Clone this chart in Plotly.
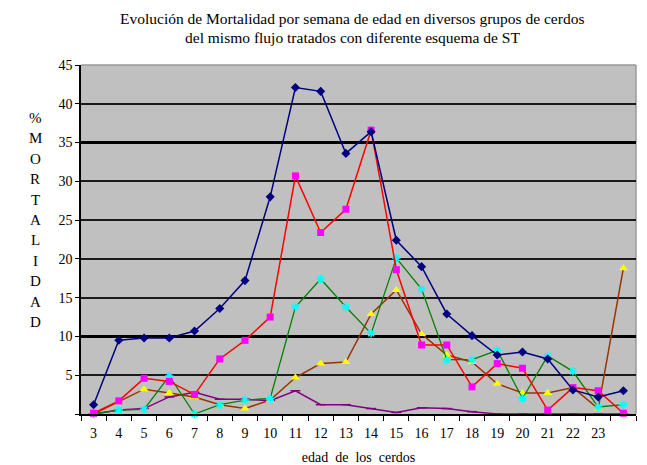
import plotly.graph_objects as go

weeks = [3, 4, 5, 6, 7, 8, 9, 10, 11, 12, 13, 14, 15, 16, 17, 18, 19, 20, 21, 22, 23, 24]
week_labels = ["3", "4", "5", "6", "7", "8", "9", "10", "11", "12", "13", "14", "15", "16",
               "17", "18", "19", "20", "21", "22", "23", ""]

serie_azul = [1.2, 9.5, 9.8, 9.8, 10.7, 13.6, 17.2, 28.0, 42.1, 41.6, 33.6, 36.4, 22.4, 19.0,
              12.9, 10.1, 7.6, 8.0, 7.1, 3.1, 2.2, 3.0]
serie_roja = [0.1, 1.7, 4.6, 4.2, 2.5, 7.1, 9.5, 12.5, 30.7, 23.4, 26.4, 36.6, 18.6, 8.9,
              8.9, 3.5, 6.5, 5.9, 0.5, 3.4, 3.0, 0.1]
serie_verde = [0.0, 0.5, 0.6, 4.9, 0.0, 1.2, 1.8, 2.0, 13.8, 17.4, 13.8, 10.4, 20.1, 16.1,
               7.0, 7.0, 8.2, 2.0, 7.5, 5.5, 0.9, 1.2]
serie_marron = [0.0, 1.6, 3.2, 2.7, 2.2, 1.2, 0.7, 1.8, 4.7, 6.5, 6.7, 12.9, 16.0, 10.3,
                7.6, 6.7, 3.9, 2.7, 2.7, 3.4, 0.7, 18.8]
serie_morada = [0.0, 0.5, 0.7, 2.2, 2.8, 1.9, 1.9, 1.7, 3.0, 1.2, 1.2, 0.7, 0.2, 0.8,
                0.7, 0.3, 0.0, 0.0, 0.0, 0.0, 0.0, 0.0]

y_ticks = [0, 5, 10, 15, 20, 25, 30, 35, 40, 45]
y_labels = ["", "5", "10", "15", "20", "25", "30", "35", "40", "45"]
thin_grid = [5, 15, 20, 25, 30, 40]
thick_grid = [10, 35]
y_title_letters = list("%MORTALIDAD")

SERIF = "Liberation Serif, Times New Roman, serif"

W, H = 639, 457
L, R, T, B = 73, 11, 57, 51
PW, PH = W - L - R, H - T - B

fig = go.Figure()

def add(y, line_color, symbol, mcolor, mline, size, width):
    fig.add_trace(go.Scatter(
        x=weeks, y=y, mode="lines+markers", cliponaxis=False,
        line=dict(color=line_color, width=width),
        marker=dict(symbol=symbol, color=mcolor, size=size,
                    line=dict(color=mline, width=1.5 if "open" in symbol else 0)),
        showlegend=False))

add(serie_morada, "#800080", "line-ew-open", "#800080", "#800080", 7, 1.5)
add(serie_marron, "#993300", "triangle-up", "#FFFF00", "#FFFF00", 8, 1.5)
add(serie_verde, "#008000", "asterisk-open", "#00FFFF", "#00FFFF", 7, 1.3)
add(serie_roja, "#FF0000", "square", "#FF00FF", "#FF00FF", 7, 1.5)
add(serie_azul, "#000080", "diamond", "#000080", "#000080", 7, 1.5)

NB = "\u00a0"
x_title = (NB * 2).join(["edad", "de", "los", "cerdos"])

fig.update_layout(
    width=W, height=H,
    margin=dict(l=L, r=R, t=T, b=B),
    paper_bgcolor="white",
    plot_bgcolor="#C0C0C0",
    font=dict(family=SERIF, size=14, color="black"),
    xaxis=dict(range=[2.5, 24.5], tickvals=weeks, ticktext=week_labels, ticks="",
               automargin=False, ticklabelstandoff=5,
               showgrid=False, zeroline=False, showline=True, linecolor="black", linewidth=1.5,
               minor=dict(tick0=2.5, dtick=1, ticks="outside", ticklen=5, tickcolor="black",
                          showgrid=False),
               tickfont=dict(family=SERIF, size=14),
               title=dict(text=x_title, font=dict(family=SERIF, size=14), standoff=14)),
    yaxis=dict(range=[0, 45], tickvals=y_ticks, ticktext=y_labels, ticks="outside", ticklen=4,
               automargin=False,
               tickcolor="black", showgrid=False, zeroline=False, showline=True,
               linecolor="black", linewidth=1.5, tickfont=dict(family=SERIF, size=14)),
    yaxis2=dict(range=[0, 45], overlaying="y", tickvals=thin_grid, showticklabels=False,
                automargin=False,
                ticks="", showgrid=True, gridcolor="#1a1a1a", gridwidth=1.5, zeroline=False,
                showline=False),
    yaxis3=dict(range=[0, 45], overlaying="y", tickvals=thick_grid, showticklabels=False,
                automargin=False,
                ticks="", showgrid=True, gridcolor="black", gridwidth=3, zeroline=False,
                showline=False),
)

fig.add_trace(go.Scatter(x=[weeks[0]], y=[None], yaxis="y2", showlegend=False, hoverinfo="skip"))
fig.add_trace(go.Scatter(x=[weeks[0]], y=[None], yaxis="y3", showlegend=False, hoverinfo="skip"))

fig.add_shape(type="line", xref="paper", yref="paper", x0=0, x1=1, y0=1, y1=1,
              line=dict(color="#9a9a9a", width=1.5), layer="below")
fig.add_shape(type="line", xref="paper", yref="paper", x0=1, x1=1, y0=0, y1=1,
              line=dict(color="#9a9a9a", width=1.5), layer="below")

title_lines = ["Evolución de Mortalidad por semana de edad en diversos grupos de cerdos",
               "del mismo flujo tratados con diferente esquema de ST"]
for i, line in enumerate(title_lines):
    py = 10 + 20 * i
    fig.add_annotation(text=line, xref="paper", yref="paper",
                       x=(344 - L) / PW, y=(H - B - py) / PH, xanchor="center", yanchor="middle",
                       showarrow=False, font=dict(family=SERIF, size=15.5))

for i, ch in enumerate(y_title_letters):
    py = 110 + 20.4 * i
    fig.add_annotation(text=ch, xref="paper", yref="paper",
                       x=(27 - L) / PW, y=(H - B - py) / PH, xanchor="center", yanchor="middle",
                       showarrow=False, font=dict(family=SERIF, size=15))

fig.write_html("out.html")
